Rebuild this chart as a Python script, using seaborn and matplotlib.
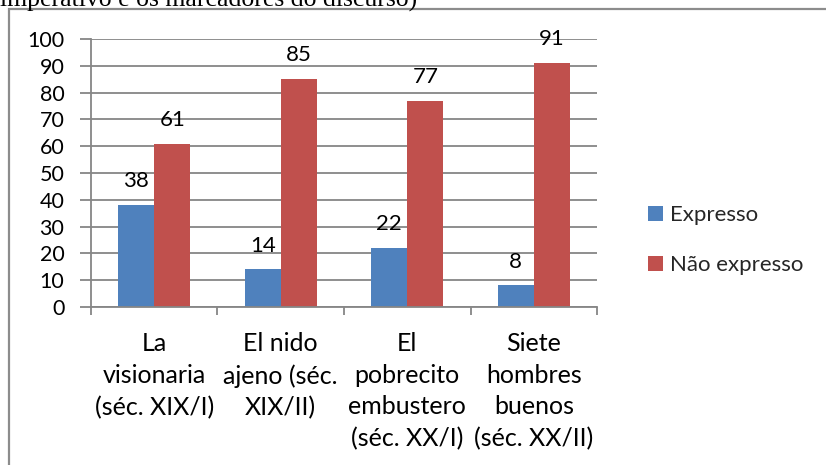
import matplotlib
matplotlib.use("Agg")
import matplotlib.pyplot as plt
from matplotlib.patches import Rectangle
import seaborn as sns
import pandas as pd

obras = [
    "La\nvisionaria\n(séc. XIX/I)",
    "El nido\najeno (séc.\nXIX/II)",
    "El\npobrecito\nembustero\n(séc. XX/I)",
    "Siete\nhombres\nbuenos\n(séc. XX/II)",
]
series = ["Expresso", "Não expresso"]
expresso = [38, 14, 22, 8]
nao_expresso = [61, 85, 77, 91]
yticks = list(range(0, 101, 10))

df = pd.DataFrame({
    "obra": obras * 2,
    "serie": [series[0]] * 4 + [series[1]] * 4,
    "valor": expresso + nao_expresso,
})

sns.set_theme(style="white")
plt.rcParams["font.family"] = ["Lato", "DejaVu Sans"]

GRID = "#868686"
palette = {"Expresso": "#4F81BD", "Não expresso": "#C0504D"}

fig = plt.figure(figsize=(8.26, 4.65), dpi=100)
ax = fig.add_axes([0.110, 0.340, 0.613, 0.576])

sns.barplot(data=df, x="obra", y="valor", hue="serie", palette=palette,
            width=0.57, saturation=1, ax=ax, legend=True, edgecolor="none")

for cont in ax.containers:
    ax.bar_label(cont, fmt="%d", padding=10, fontsize=16, color="black")

ax.set_ylim(0, 100)
ax.set_yticks(yticks)
ax.set_xlim(-0.5, 3.5)
ax.set_xlabel("")
ax.set_ylabel("")
ax.set_axisbelow(True)
ax.yaxis.grid(True, color=GRID, linewidth=1.3)
ax.xaxis.grid(False)

for side in ["top", "right"]:
    ax.spines[side].set_visible(False)
for side in ["left", "bottom"]:
    ax.spines[side].set_color(GRID)
    ax.spines[side].set_linewidth(1.3)

ax.tick_params(axis="y", which="major", left=True, length=8, width=1.3,
               color=GRID, labelsize=15.5, pad=11, labelcolor="black")
ax.set_xticks([0, 1, 2, 3])
ax.set_xticklabels(obras, fontsize=18, linespacing=1.46, va="top")
ax.tick_params(axis="x", which="major", bottom=False, pad=12, labelcolor="black")
ax.set_xticks([-0.5, 0.5, 1.5, 2.5, 3.5], minor=True)
ax.tick_params(axis="x", which="minor", bottom=True, length=6, width=1.3,
               color=GRID)

leg = ax.legend(loc="center left", bbox_to_anchor=(1.06, 0.25), frameon=False,
                fontsize=16, handlelength=0.68, handleheight=0.68,
                handletextpad=0.35, labelspacing=1.35)

# chart frame
fig.patches.append(Rectangle((8.5 / 826, -0.1), 1.2, 1 - 9.5 / 465 + 0.1,
                             transform=fig.transFigure, fill=False,
                             edgecolor="#8C8C8C", linewidth=1.6))

fig.text(0.0, 1 - 7 / 465, "imperativo e os marcadores do discurso)",
         family=["Liberation Serif"], fontsize=18.5, va="baseline", ha="left",
         color="black")

fig.savefig("out.png", dpi=100)
